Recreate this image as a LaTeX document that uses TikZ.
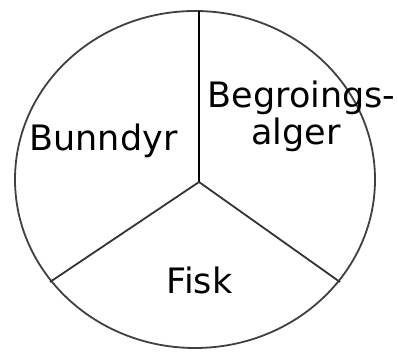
\documentclass[tikz,border=0pt]{standalone}
\usepackage{fontspec}
\setmainfont{DejaVu Sans}
\begin{document}
\begin{tikzpicture}[x=1pt,y=1pt,
  lbl/.style={inner sep=0pt, anchor=base, font=\fontsize{35}{37}\selectfont},
  rim/.style={draw=black!75, line width=1.8pt},
  spoke/.style={draw=black!80, line width=1.8pt}]
\useasboundingbox (0,0) rectangle (398,352);
\fill[white] (0,0) rectangle (398,352);
\coordinate (ctr) at (195,172.5);
\coordinate (hub) at (199,170);
\coordinate (top) at (199,341);
\coordinate (lft) at (50,70);
\coordinate (rgt) at (340,70);
\draw[rim] (ctr) ellipse [x radius=180pt, y radius=168.5pt];
\draw[draw=black, line width=2.2pt] (hub) -- (top);
\draw[spoke] (hub) -- (lft);
\draw[spoke] (hub) -- (rgt);
\node[lbl] (bunndyr) at (103.5,201) {Bunndyr};
\node[lbl] (begro) at (301.5,244) {Begroings-};
\node[lbl] (alger) at (296,207) {alger};
\node[lbl] (fisk) at (199.5,58) {Fisk};
\end{tikzpicture}
\end{document}
